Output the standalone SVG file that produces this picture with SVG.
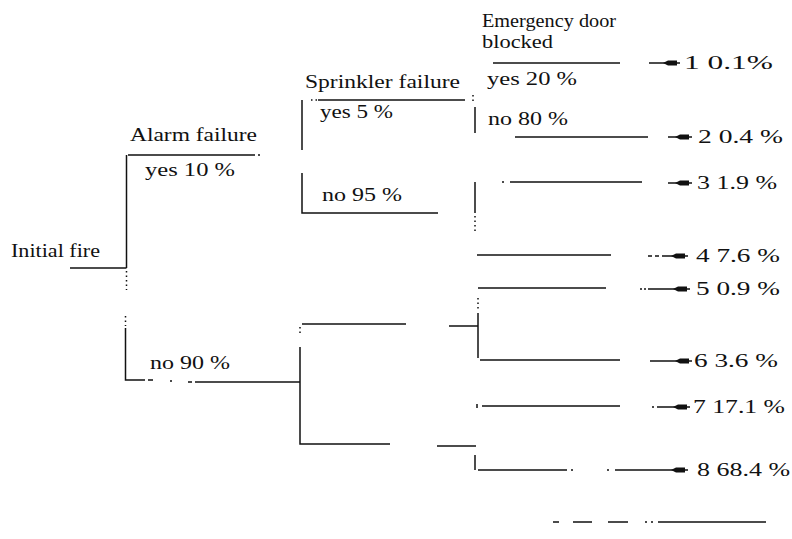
<svg xmlns="http://www.w3.org/2000/svg" width="792" height="539" viewBox="0 0 792 539">
<style>
text { font-family: "Liberation Serif", "Times New Roman", serif; font-size: 19px; fill: #111; }
.c path { stroke: #111; stroke-width: 1.5; fill: none; }
.c .dot { stroke-dasharray: 1.5 3; }
.head { fill: #111; stroke: none; }
</style>
<defs>
<path id="ah" class="head" d="M-17,0 L-12,-2.4 L-3,-2.4 L-3,2.4 L-12,2.4 Z"/>
</defs>
<rect width="792" height="539" fill="#fff"/>

<g id="connectors" class="c">
  <!-- initial fire to alarm -->
  <path d="M70,268 H126.5"/>
  <path d="M126.5,155 V268"/>
  <path class="dot" d="M126.5,271 V290"/>
  <path class="dot" d="M125.5,316 V326"/>
  <path d="M125.5,328 V380 H145"/>
  <path d="M148,380 H153 M170,381 H172 M188,382 H192"/>
  <path d="M195,382 H300"/>
  <path d="M128,155 H255 M258,155 H260"/>
  <!-- upper sprinkler -->
  <path d="M302,100 V150"/>
  <path d="M302,173 V213 H438"/>
  <path class="dot" d="M311,100 H317"/>
  <path d="M318,100 H465"/>
  <path class="dot" d="M473,95 V104"/>
  <!-- upper emergency door -->
  <path d="M475,107 V133"/>
  <path d="M475,182 V213"/>
  <path class="dot" d="M475,216 V231"/>
  <path d="M493,63 H620"/>
  <path d="M515,137 H648"/>
  <path d="M502,182 H504 M510,182 H642"/>
  <path d="M477,255 H611"/>
  <!-- lower sprinkler -->
  <path class="dot" d="M300,327 V336"/>
  <path d="M300,347 V444 H390"/>
  <path d="M302,324 H406"/>
  <!-- lower emergency doors -->
  <path d="M449,326 H478"/>
  <path class="dot" d="M478,298 V311"/>
  <path d="M478,313 V358"/>
  <path d="M478,288 H606"/>
  <path d="M480,360 H620"/>
  <path d="M477,404 V408 M482,406 H620"/>
  <path d="M437,446 H476"/>
  <path d="M475,455 V470"/>
  <path d="M478,470 H567 M571,470 H573"/>
  <!-- outcome arrows -->
  <path d="M649,63 H680"/>
  <path d="M668,137 H692"/>
  <path d="M668,183 H692"/>
  <path d="M648,256 H652 M655,256 H659 M662,256 H688"/>
  <path d="M640,289 H642 M644,289 H646 M648,289 H690"/>
  <path d="M650,361 H692"/>
  <path d="M652,407 H654 M657,407 H690"/>
  <path d="M607,470 H609 M615,470 H688"/>
  <use href="#ah" x="680" y="63"/>
  <use href="#ah" x="692" y="137"/>
  <use href="#ah" x="692" y="183"/>
  <use href="#ah" x="688" y="256"/>
  <use href="#ah" x="690" y="289"/>
  <use href="#ah" x="692" y="361"/>
  <use href="#ah" x="690" y="407"/>
  <use href="#ah" x="688" y="470"/>
  <!-- bottom broken line -->
  <path d="M553,522 H559 M573,522 H592 M608,522 H628 M645,522 H647 M651,522 H653 M658,522 H766"/>
</g>

<g id="initial-fire">
  <text x="11" y="257" textLength="89" lengthAdjust="spacingAndGlyphs">Initial fire</text>
</g>
<g id="alarm-failure">
  <text x="130" y="141" textLength="127" lengthAdjust="spacingAndGlyphs">Alarm failure</text>
  <text x="145" y="176" textLength="90" lengthAdjust="spacingAndGlyphs">yes 10 %</text>
  <text x="150" y="369" textLength="80" lengthAdjust="spacingAndGlyphs">no 90 %</text>
</g>
<g id="sprinkler-failure">
  <text x="305" y="88" textLength="155" lengthAdjust="spacingAndGlyphs">Sprinkler failure</text>
  <text x="320" y="118" textLength="73" lengthAdjust="spacingAndGlyphs">yes 5 %</text>
  <text x="322" y="201" textLength="80" lengthAdjust="spacingAndGlyphs">no 95 %</text>
</g>
<g id="emergency-door">
  <text x="482" y="27" textLength="134" lengthAdjust="spacingAndGlyphs">Emergency door</text>
  <text x="482" y="48" textLength="71" lengthAdjust="spacingAndGlyphs">blocked</text>
  <text x="487" y="85" textLength="90" lengthAdjust="spacingAndGlyphs">yes 20 %</text>
  <text x="488" y="125" textLength="80" lengthAdjust="spacingAndGlyphs">no 80 %</text>
</g>
<g id="outcome-1"><text x="684" y="69" textLength="89" lengthAdjust="spacingAndGlyphs">1 0.1%</text></g>
<g id="outcome-2"><text x="698" y="143" textLength="85" lengthAdjust="spacingAndGlyphs">2 0.4 %</text></g>
<g id="outcome-3"><text x="697" y="189" textLength="80" lengthAdjust="spacingAndGlyphs">3 1.9 %</text></g>
<g id="outcome-4"><text x="696" y="262" textLength="84" lengthAdjust="spacingAndGlyphs">4 7.6 %</text></g>
<g id="outcome-5"><text x="696" y="295" textLength="84" lengthAdjust="spacingAndGlyphs">5 0.9 %</text></g>
<g id="outcome-6"><text x="694" y="367" textLength="84" lengthAdjust="spacingAndGlyphs">6 3.6 %</text></g>
<g id="outcome-7"><text x="693" y="413" textLength="92" lengthAdjust="spacingAndGlyphs">7 17.1 %</text></g>
<g id="outcome-8"><text x="697" y="476" textLength="93" lengthAdjust="spacingAndGlyphs">8 68.4 %</text></g>
</svg>
